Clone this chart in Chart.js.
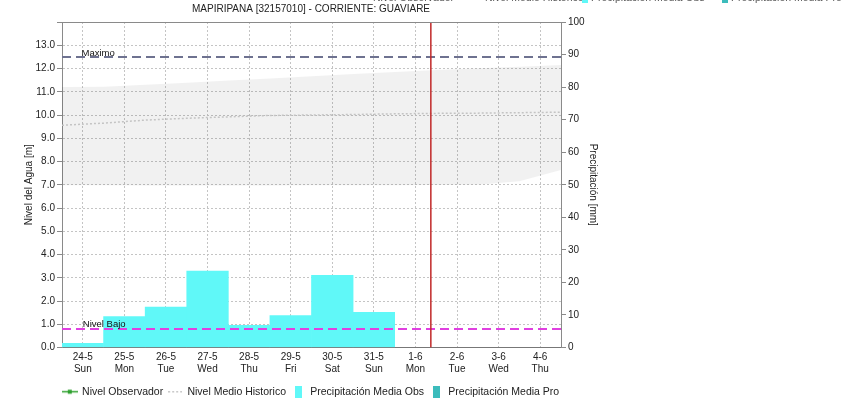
<!DOCTYPE html>
<html>
<head>
<meta charset="utf-8">
<script src="https://cdn.jsdelivr.net/npm/chart.js@4.4.1/dist/chart.umd.min.js"></script>
<style>
  body { margin: 0; background: #fff; }
  canvas { display: block; }
</style>
</head>
<body>
<canvas id="grafico" width="856" height="402"></canvas>
<script>
// dias del eje x (fecha y dia de la semana)
const categorias = [
  ['24-5', 'Sun'], ['25-5', 'Mon'], ['26-5', 'Tue'], ['27-5', 'Wed'],
  ['28-5', 'Thu'], ['29-5', 'Fri'], ['30-5', 'Sat'], ['31-5', 'Sun'],
  ['1-6', 'Mon'], ['2-6', 'Tue'], ['3-6', 'Wed'], ['4-6', 'Thu']
];

// precipitacion diaria [mm]
const precipObs = [1.3, 9.5, 12.4, 23.5, 6.8, 9.8, 22.2, 10.8, null, null, null, null];
const precipPro = [null, null, null, null, null, null, null, null, null, null, null, null];

// niveles [m], medidos en los limites de cada dia (0 = inicio del 24-5)
const limitesDia = [0, 1, 2, 3, 4, 5, 6, 7, 8, 9, 10, 11, 12];
const nivelObservador = [];
const medioHistorico = [9.56, 9.65, 9.78, 9.86, 9.92, 9.98, 10.0, 10.02, 10.05, 10.07, 10.08, 10.1, 10.12];
const historicoMax = [11.2, 11.22, 11.3, 11.39, 11.48, 11.57, 11.67, 11.76, 11.85, 11.94, 12.01, 12.08, 12.15];
const historicoMin = [6.98, 6.98, 6.97, 6.97, 6.97, 6.97, 6.98, 6.98, 6.98, 6.99, 7.0, 7.15, 7.63];

const nivelMaximo = 12.5;
const nivelBajo = 0.8;
const ahora = 8.87; // linea roja del momento actual

const fuente = '"Liberation Sans", Arial, sans-serif';

//arma pares x,y para el eje oculto
function puntos(valores) {
  return valores.map((v, i) => ({ x: limitesDia[i], y: v }));
}

//dibuja un simbolo pequeño para la leyenda
function simbolo(ancho, alto, dibujar) {
  const c = document.createElement('canvas');
  c.width = ancho;
  c.height = alto;
  dibujar(c.getContext('2d'));
  return c;
}

const simObservador = simbolo(16, 7, ctx => {
  ctx.strokeStyle = '#2ea02e';
  ctx.lineWidth = 1.5;
  ctx.beginPath(); ctx.moveTo(0, 3.5); ctx.lineTo(16, 3.5); ctx.stroke();
  ctx.fillStyle = '#2ea02e';
  ctx.fillRect(6, 1.5, 4, 4);
});
const simHistorico = simbolo(14, 3, ctx => {
  ctx.fillStyle = '#b8b8b8';
  for (let x = 0; x < 14; x += 4) ctx.fillRect(x, 1, 2, 1.2);
});
const simObs = simbolo(7, 12, ctx => { ctx.fillStyle = '#60f8f8'; ctx.fillRect(0, 0, 7, 12); });
const simPro = simbolo(7, 12, ctx => { ctx.fillStyle = '#3cbcbc'; ctx.fillRect(0, 0, 7, 12); });

const leyenda = [
  { text: 'Nivel Observador', pointStyle: simObservador },
  { text: 'Nivel Medio Historico', pointStyle: simHistorico },
  { text: 'Precipitación Media Obs', pointStyle: simObs },
  { text: 'Precipitación Media Pro', pointStyle: simPro }
];

//textos y marco extra
const extras = {
  id: 'extras',
  afterDatasetsDraw(chart) {
    const { ctx, chartArea, scales } = chart;
    ctx.save();
    // borde superior
    ctx.strokeStyle = '#8a8a8a';
    ctx.lineWidth = 1;
    ctx.beginPath();
    ctx.moveTo(chartArea.left, chartArea.top + 0.5);
    ctx.lineTo(chartArea.right, chartArea.top + 0.5);
    ctx.stroke();
    // etiquetas de los niveles
    ctx.fillStyle = '#111';
    ctx.font = '9.5px ' + fuente;
    ctx.textBaseline = 'alphabetic';
    ctx.fillText('Maximo', scales.xh.getPixelForValue(0.47), scales.y.getPixelForValue(nivelMaximo) - 1);
    ctx.fillText('Nivel Bajo', scales.xh.getPixelForValue(0.5), scales.y.getPixelForValue(nivelBajo) - 1.5);
    ctx.restore();
  },
  afterDraw(chart) {
    // leyenda recortada arriba a la derecha
    const ctx = chart.ctx;
    ctx.save();
    ctx.font = '10.5px ' + fuente;
    ctx.fillStyle = '#555';
    ctx.textBaseline = 'alphabetic';
    ctx.fillText('Nivel Observador', 373, 1);
    ctx.fillText('Nivel Medio Historico', 485, 1);
    ctx.fillText('Precipitación Media Obs', 591, 1);
    ctx.fillText('Precipitación Media Pro', 731, 1);
    ctx.fillStyle = '#60f8f8';
    ctx.fillRect(582, 0, 6, 3);
    ctx.fillStyle = '#3cbcbc';
    ctx.fillRect(722, 0, 6, 3);
    ctx.restore();
  }
};

const config = {
  type: 'bar',
  data: {
    labels: categorias,
    datasets: [
      {
        type: 'line',
        label: 'Nivel Observador',
        data: nivelObservador,
        borderColor: '#2ea02e',
        backgroundColor: '#2ea02e',
        pointStyle: 'rect',
        order: 0
      },
      {
        type: 'line',
        label: 'Nivel Medio Historico',
        data: puntos(medioHistorico),
        xAxisID: 'xh',
        yAxisID: 'y',
        borderColor: '#c4c4c4',
        borderWidth: 1.5,
        borderDash: [2, 2],
        pointRadius: 0,
        fill: false,
        order: 15
      },
      {
        label: 'Precipitación Media Obs',
        data: precipObs,
        yAxisID: 'y2',
        backgroundColor: '#60f8f8',
        barPercentage: 1,
        categoryPercentage: 1,
        grouped: false,
        order: 10
      },
      {
        label: 'Precipitación Media Pro',
        data: precipPro,
        yAxisID: 'y2',
        backgroundColor: '#3cbcbc',
        barPercentage: 1,
        categoryPercentage: 1,
        grouped: false,
        order: 10
      },
      {
        type: 'line',
        label: 'Minimo historico',
        data: puntos(historicoMin),
        xAxisID: 'xh',
        yAxisID: 'y',
        borderWidth: 0,
        pointRadius: 0,
        fill: false,
        order: 20
      },
      {
        type: 'line',
        label: 'Maximo historico',
        data: puntos(historicoMax),
        xAxisID: 'xh',
        yAxisID: 'y',
        borderWidth: 0,
        pointRadius: 0,
        backgroundColor: 'rgba(0,0,0,0.055)',
        fill: '-1',
        order: 20
      },
      {
        type: 'line',
        label: 'Maximo',
        data: [{ x: 0, y: nivelMaximo }, { x: 12, y: nivelMaximo }],
        xAxisID: 'xh',
        yAxisID: 'y',
        borderColor: '#6e7290',
        borderWidth: 2,
        borderDash: [9, 5],
        pointRadius: 0,
        order: 1
      },
      {
        type: 'line',
        label: 'Nivel Bajo',
        data: [{ x: 0, y: nivelBajo }, { x: 12, y: nivelBajo }],
        xAxisID: 'xh',
        yAxisID: 'y',
        borderColor: '#e040e0',
        borderWidth: 2,
        borderDash: [9, 5],
        pointRadius: 0,
        order: 1
      },
      {
        type: 'line',
        label: 'Ahora',
        data: [{ x: ahora, y: 0 }, { x: ahora, y: 14 }],
        xAxisID: 'xh',
        yAxisID: 'y',
        borderColor: '#c02828',
        borderWidth: 1.5,
        pointRadius: 0,
        order: 0
      }
    ]
  },
  options: {
    responsive: false,
    animation: false,
    layout: { padding: { left: 0, right: 234, top: 0, bottom: -5 } },
    plugins: {
      title: {
        display: true,
        text: 'MAPIRIPANA [32157010] - CORRIENTE: GUAVIARE',
        color: '#222',
        font: { family: fuente, size: 10, weight: 'normal' },
        padding: { top: 3, bottom: 7 }
      },
      legend: {
        position: 'bottom',
        labels: {
          usePointStyle: true,
          pointStyleWidth: 14,
          boxHeight: 11,
          padding: 5,
          color: '#222',
          font: { family: fuente, size: 10.5 },
          generateLabels: () => leyenda.map(l => ({
            text: l.text, pointStyle: l.pointStyle, fillStyle: 'transparent',
            strokeStyle: 'transparent', lineWidth: 0, hidden: false, fontColor: '#222'
          }))
        }
      },
      tooltip: { enabled: false }
    },
    scales: {
      x: {
        offset: true,
        grid: { offset: false, color: '#c4c4c4', drawTicks: false },
        border: { color: '#777', dash: [2, 2] },
        ticks: { color: '#222', font: { family: fuente, size: 10 }, padding: 4, maxRotation: 0, autoSkip: false },
        afterFit: s => { s.height = 34; }
      },
      xh: {
        type: 'linear',
        min: 0,
        max: 12,
        offset: false,
        display: false
      },
      y: {
        position: 'left',
        min: 0,
        max: 14,
        ticks: {
          stepSize: 1,
          color: '#222',
          font: { family: fuente, size: 10 },
          padding: 2,
          callback: v => v >= 14 ? '' : v.toFixed(1)
        },
        grid: { color: '#c4c4c4', tickLength: 5, tickColor: '#8a8a8a' },
        border: { color: '#8a8a8a', dash: [2, 2] },
        title: {
          display: true,
          text: 'Nivel del Agua [m]',
          color: '#222',
          font: { family: fuente, size: 10 },
          padding: { top: 23, bottom: 0 }
        },
        afterFit: s => { s.width = 62; }
      },
      y2: {
        position: 'right',
        min: 0,
        max: 100,
        ticks: {
          stepSize: 10,
          color: '#222',
          font: { family: fuente, size: 10 },
          padding: 2
        },
        grid: { drawOnChartArea: false, tickLength: 5, tickColor: '#8a8a8a' },
        border: { color: '#8a8a8a' },
        title: {
          display: true,
          text: 'Precipitación [mm]',
          color: '#222',
          font: { family: fuente, size: 10 },
          padding: { top: 23, bottom: 0 }
        },
        afterFit: s => { s.width = 61; }
      }
    }
  },
  plugins: [extras]
};

const grafico = new Chart(document.getElementById('grafico'), config);
</script>
</body>
</html>
